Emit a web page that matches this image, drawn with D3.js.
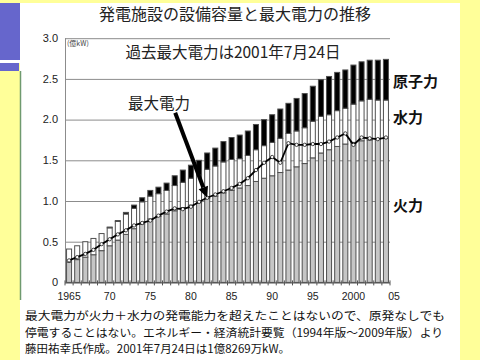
<!DOCTYPE html>
<html><head><meta charset="utf-8">
<script src="https://cdn.jsdelivr.net/npm/d3@7"></script>
<style>
html,body{margin:0;padding:0;background:#ffff99;}
svg{display:block;}
</style></head>
<body><svg id="c" width="480" height="360"></svg>
<script>
// ---- data (億kW) ----
const years = [1965,1966,1967,1968,1969,1970,1971,1972,1973,1974,1975,1976,1977,1978,1979,1980,1981,1982,1983,1984,
               1985,1986,1987,1988,1989,1990,1991,1992,1993,1994,1995,1996,1997,1998,1999,2000,2001,2002,2003,2004];
const thermal = [0.25,0.28,0.31,0.34,0.39,0.45,0.52,0.59,0.66,0.72,0.78,0.81,0.84,0.88,0.92,0.95,0.98,1.03,1.06,1.10,
                 1.13,1.16,1.19,1.24,1.28,1.31,1.35,1.38,1.42,1.46,1.53,1.59,1.63,1.67,1.70,1.72,1.74,1.75,1.76,1.77];
const hydro   = [0.16,0.17,0.19,0.20,0.21,0.22,0.23,0.25,0.25,0.27,0.28,0.28,0.29,0.31,0.31,0.33,0.34,0.36,0.37,0.38,
                 0.38,0.36,0.37,0.39,0.40,0.41,0.42,0.45,0.44,0.44,0.45,0.45,0.43,0.44,0.44,0.47,0.49,0.50,0.48,0.47];
const nuclear = [0,0,0,0,0,0.01,0.01,0.02,0.04,0.05,0.07,0.08,0.09,0.12,0.15,0.16,0.18,0.20,0.22,0.25,
                 0.27,0.29,0.30,0.31,0.32,0.34,0.36,0.37,0.40,0.42,0.43,0.45,0.47,0.47,0.47,0.48,0.48,0.48,0.49,0.50];
const peakDemand = [0.27,0.31,0.35,0.40,0.47,0.53,0.59,0.64,0.70,0.73,0.76,0.82,0.87,0.91,0.90,0.93,0.99,1.04,1.08,1.12,
                    1.16,1.21,1.28,1.38,1.47,1.54,1.47,1.71,1.69,1.69,1.70,1.70,1.73,1.78,1.83,1.69,1.78,1.77,1.76,1.78];
const yTicks = [0,0.5,1.0,1.5,2.0,2.5,3.0];
const xTickYears = [1965,1970,1975,1980,1985,1990,1995,2000,2005];
const xTickLabels = ["1965","70","75","80","85","90","95","2000","05"];
const seriesNames = ["火力","水力","原子力"];
const title = "発電施設の設備容量と最大電力の推移";
const subtitle = "過去最大電力は2001年7月24日";
const unitLabel = "(億kW)";
const demandLabel = "最大電力";
const notes = ["最大電力が火力＋水力の発電能力を超えたことはないので、原発なしでも",
               "停電することはない。エネルギー・経済統計要覧（1994年版～2009年版）より",
               "藤田祐幸氏作成。2001年7月24日は1億8269万kW。"];

const svg = d3.select("#c");
const FONT = "'Liberation Sans','Noto Sans CJK JP',sans-serif";
const JFONT = "'Noto Sans CJK JP','Liberation Sans',sans-serif";

// ---- slide background ----
svg.append("rect").attr("width",480).attr("height",360).attr("fill","#ffff99");
svg.append("rect").attr("x",20).attr("y",3).attr("width",440).attr("height",357).attr("fill","#ffffff");
svg.append("rect").attr("x",0).attr("y",3).attr("width",20).attr("height",57).attr("fill","#6666cc");
svg.append("rect").attr("x",0).attr("y",60).attr("width",20).attr("height",3).attr("fill","#ffffff");
svg.append("rect").attr("x",0).attr("y",63).attr("width",19).attr("height",8).attr("fill","#6666cc");
svg.append("line").attr("x1",20.5).attr("x2",20.5).attr("y1",71).attr("y2",300)
   .attr("stroke","#6f9a6f").attr("stroke-width",1.5);

// ---- scales ----
const x = d3.scaleBand().domain(years).range([65,390]).paddingInner(0.26).paddingOuter(0.13);
const xLin = d3.scaleLinear().domain([1964.5,2004.5]).range([65,390]);
const y = d3.scaleLinear().domain([0,3]).range([282.4,38.2]);
const bw = x.bandwidth();

// ---- gridlines ----
const grid = svg.append("g").attr("transform","translate(65,0)")
  .call(d3.axisLeft(y).tickValues(yTicks.slice(1)).tickSize(-325).tickFormat(""));
grid.select(".domain").remove();
grid.selectAll("line").attr("stroke","#8c8c8c").attr("stroke-width",1);

// y axis line
svg.append("line").attr("x1",65.5).attr("x2",65.5).attr("y1",y(3)).attr("y2",y(0))
   .attr("stroke","#8c8c8c");

// ---- stacked bars ----
const rows = years.map((yr,i)=>({year:yr, thermal:thermal[i], hydro:hydro[i], nuclear:nuclear[i]}));
const stack = d3.stack().keys(["thermal","hydro","nuclear"])(rows);
const fills = {thermal:"#c6c6c6", hydro:"#ffffff", nuclear:"#000000"};
svg.append("g").selectAll("g").data(stack).join("g")
  .attr("fill", d=>fills[d.key])
  .selectAll("rect").data(d=>d.filter(p=>p[1]-p[0]>0)).join("rect")
  .attr("x", d=>x(d.data.year)+0.5)
  .attr("y", d=>y(d[1]))
  .attr("width", bw-1)
  .attr("height", d=>y(d[0])-y(d[1]))
  .attr("stroke","#505050").attr("stroke-width",1);

// ---- baseline with ticks ----
svg.append("line").attr("x1",65).attr("x2",390).attr("y1",y(0)+0.5).attr("y2",y(0)+0.5)
   .attr("stroke","#555").attr("stroke-width",1.2);
svg.append("g").selectAll("line").data(years.concat([2005])).join("line")
  .attr("x1", d=>xLin(d-0.5)).attr("x2", d=>xLin(d-0.5))
  .attr("y1", y(0)-2).attr("y2", y(0)+3)
  .attr("stroke","#555");

// ---- peak demand line ----
const lineGen = d3.line().x((d,i)=>x(years[i])+bw/2).y(d=>y(d));
svg.append("path").datum(peakDemand).attr("d",lineGen)
  .attr("fill","none").attr("stroke","#000").attr("stroke-width",1.8);
svg.append("g").selectAll("circle").data(peakDemand).join("circle")
  .attr("cx",(d,i)=>x(years[i])+bw/2).attr("cy",d=>y(d)).attr("r",1.7)
  .attr("fill","#fff").attr("stroke","#000").attr("stroke-width",0.7);

// ---- y tick labels ----
svg.append("g").selectAll("text").data(yTicks).join("text")
  .attr("x",58).attr("y",d=>y(d)).attr("dy","0.35em").attr("text-anchor","end")
  .attr("font-family",FONT).attr("font-size",11).attr("fill","#222")
  .text(d=>d===0?"0":d.toFixed(1));

// ---- x tick labels ----
svg.append("g").selectAll("text").data(xTickYears).join("text")
  .attr("x",(d)=>xLin(d)).attr("y",300).attr("text-anchor","middle")
  .attr("font-family",FONT).attr("font-size",10.5).attr("fill","#222")
  .text((d,i)=>xTickLabels[i]);

// ---- texts ----
svg.append("text").attr("x",235).attr("y",20).attr("text-anchor","middle")
  .attr("font-family",JFONT).attr("font-size",16).attr("fill","#222").text(title);
svg.append("text").attr("x",233).attr("y",58).attr("text-anchor","middle")
  .attr("font-family",JFONT).attr("font-size",15.5).attr("fill","#222").text(subtitle);
svg.append("text").attr("x",67).attr("y",46).attr("font-family",JFONT).attr("font-size",7)
  .attr("fill","#444").text(unitLabel);

// series labels on the right
const labelY = [211,123,87];
svg.append("g").selectAll("text").data(seriesNames).join("text")
  .attr("x",393).attr("y",(d,i)=>labelY[i])
  .attr("font-family",JFONT).attr("font-size",15).attr("font-weight","bold").attr("fill","#111")
  .text(d=>d);

// demand label + arrow
svg.append("text").attr("x",128).attr("y",109).attr("font-family",JFONT).attr("font-size",15.5)
  .attr("fill","#222").text(demandLabel);
const tipX = x(1982)+bw/2, tipY = y(peakDemand[years.indexOf(1982)]);
const tailX = tipX-32, tailY = tipY-85;
const ang = Math.atan2(tipY-tailY, tipX-tailX);
const hl = 11, hw = 5;
const bx = tipX - hl*Math.cos(ang), by = tipY - hl*Math.sin(ang);
svg.append("line").attr("x1",tailX).attr("y1",tailY).attr("x2",bx).attr("y2",by)
  .attr("stroke","#000").attr("stroke-width",4);
svg.append("path").attr("d",`M${tipX},${tipY} L${bx+hw*Math.sin(ang)},${by-hw*Math.cos(ang)} L${bx-hw*Math.sin(ang)},${by+hw*Math.cos(ang)} Z`)
  .attr("fill","#000");

// notes
const noteY = [320,336.5,353], noteW = [420,418,265];
svg.append("g").selectAll("text").data(notes).join("text")
  .attr("x",25).attr("y",(d,i)=>noteY[i])
  .attr("font-family",JFONT).attr("font-size",11.2).attr("fill","#111")
  .attr("textLength",(d,i)=>noteW[i]).attr("lengthAdjust","spacingAndGlyphs")
  .text(d=>d);
</script>
</body></html>
